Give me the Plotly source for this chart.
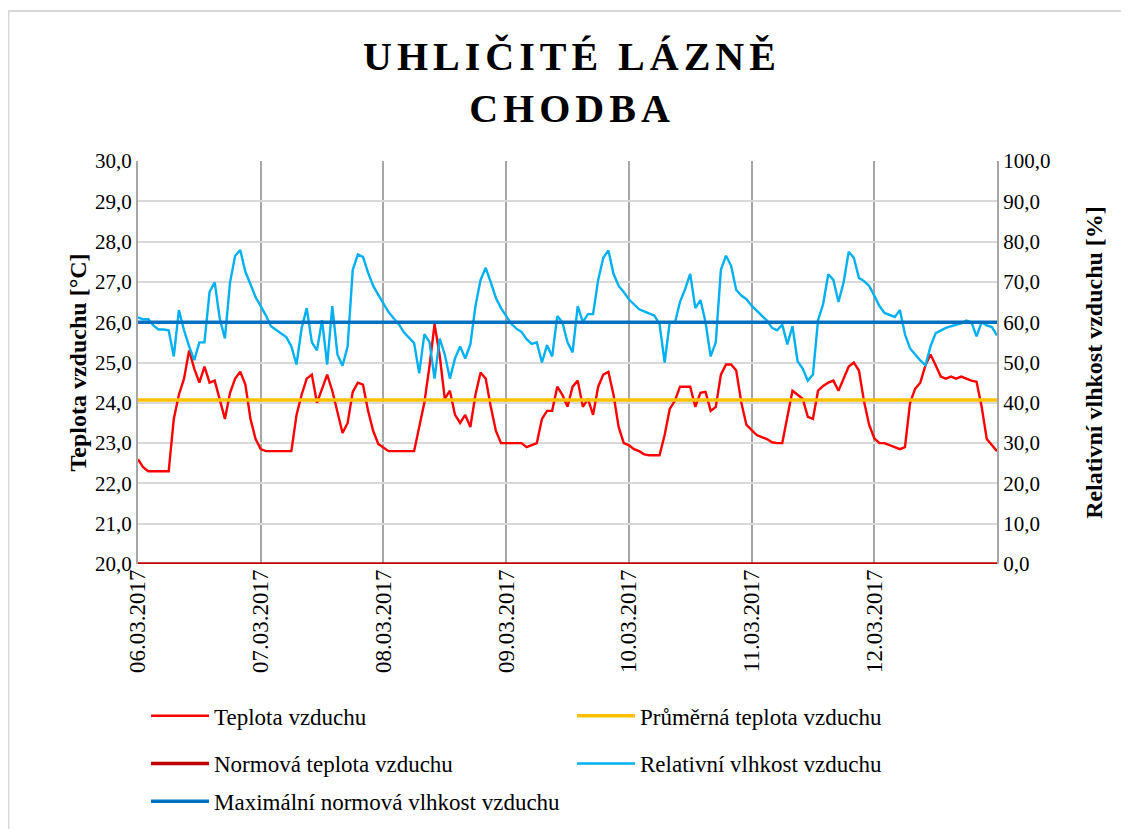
import pandas as pd
import plotly.graph_objects as go

# ---------------- data (hourly readings) ----------------
DAYS = ["06.03.2017", "07.03.2017", "08.03.2017", "09.03.2017",
        "10.03.2017", "11.03.2017", "12.03.2017"]

TEMP_06 = [22.6, 22.4, 22.3, 22.3, 22.3, 22.3, 22.3, 23.6, 24.2, 24.6, 25.3, 24.85,
           24.5, 24.9, 24.5, 24.55, 24.1, 23.6, 24.25, 24.6, 24.77, 24.45, 23.6, 23.1]
TEMP_07 = [22.85, 22.8, 22.8, 22.8, 22.8, 22.8, 22.8, 23.7, 24.2, 24.6, 24.7, 24.0,
           24.35, 24.7, 24.3, 23.8, 23.25, 23.5, 24.27, 24.5, 24.45, 23.8, 23.3, 22.98]
TEMP_08 = [22.88, 22.8, 22.8, 22.8, 22.8, 22.8, 22.8, 23.4, 24.0, 24.9, 25.95, 25.18,
           24.1, 24.3, 23.7, 23.5, 23.7, 23.4, 24.2, 24.75, 24.6, 23.9, 23.3, 23.0]
TEMP_09 = [23.0, 23.0, 23.0, 23.0, 22.9, 22.95, 23.0, 23.6, 23.8, 23.8, 24.4, 24.2,
           23.9, 24.4, 24.55, 23.9, 24.1, 23.7, 24.4, 24.7, 24.77, 24.2, 23.4, 23.0]
TEMP_10 = [22.95, 22.85, 22.8, 22.72, 22.7, 22.7, 22.7, 23.2, 23.85, 24.05, 24.4, 24.4,
           24.4, 23.9, 24.25, 24.27, 23.8, 23.9, 24.7, 24.95, 24.95, 24.8, 24.0, 23.45]
TEMP_11 = [23.33, 23.2, 23.15, 23.1, 23.02, 23.0, 23.0, 23.7, 24.3, 24.2, 24.1, 23.65,
           23.6, 24.3, 24.42, 24.5, 24.55, 24.3, 24.6, 24.9, 25.0, 24.8, 24.03, 23.45]
TEMP_12 = [23.12, 23.0, 23.0, 22.95, 22.9, 22.85, 22.9, 24.0, 24.35, 24.5, 24.93, 25.2,
           24.93, 24.65, 24.6, 24.65, 24.6, 24.65, 24.6, 24.55, 24.52, 23.9, 23.1, 22.95]
TEMP_END = [22.8]

RH_06 = [61.2, 60.7, 60.8, 59.2, 58.2, 58.2, 58.0, 51.5, 63.0, 58.0, 54.0, 50.6,
         55.0, 55.0, 67.5, 69.9, 60.8, 56.0, 69.9, 76.5, 77.9, 72.5, 69.4, 66.2]
RH_07 = [64.0, 61.7, 59.0, 58.0, 57.2, 56.3, 54.0, 49.5, 58.5, 63.5, 55.0, 53.0,
         60.5, 49.5, 64.0, 52.0, 49.2, 54.0, 73.0, 76.8, 76.2, 72.3, 69.0, 66.8]
RH_08 = [64.5, 62.5, 61.0, 59.5, 57.5, 56.2, 54.8, 47.3, 57.0, 55.1, 46.0, 55.9,
         52.0, 46.0, 51.0, 54.0, 51.0, 54.5, 64.0, 70.5, 73.5, 69.9, 66.0, 63.5]
RH_09 = [61.6, 59.6, 58.4, 57.6, 55.8, 54.6, 55.0, 50.0, 54.3, 51.5, 61.5, 60.0,
         55.0, 52.5, 64.0, 60.0, 62.0, 62.0, 70.5, 76.0, 77.8, 72.0, 69.0, 67.5]
RH_10 = [65.7, 64.5, 63.2, 62.7, 62.1, 61.6, 59.5, 50.0, 60.0, 59.8, 65.0, 68.2,
         72.0, 63.5, 65.5, 60.0, 51.5, 55.0, 73.0, 76.5, 74.0, 68.0, 66.6, 65.7]
RH_11 = [64.1, 62.9, 61.6, 60.4, 58.6, 58.0, 59.4, 54.5, 59.0, 50.3, 48.5, 45.5,
         47.0, 60.5, 64.5, 71.9, 70.5, 65.0, 69.9, 77.5, 76.0, 71.0, 70.2, 69.0]
RH_12 = [66.6, 64.0, 62.3, 61.7, 61.3, 63.0, 57.0, 53.5, 52.0, 50.5, 49.3, 54.0,
         57.3, 58.0, 58.6, 59.0, 59.4, 59.7, 60.4, 60.0, 56.5, 60.0, 59.2, 58.8]
RH_END = [56.7]

AVG_TEMP = 24.07      # Průměrná teplota vzduchu
NORM_TEMP = 20.0      # Normová teplota vzduchu
MAX_RH = 60.0         # Maximální normová vlhkost vzduchu

TITLE_LINES = ["UHLIČITÉ LÁZNĚ", "CHODBA"]
NAMES = ["Teplota vzduchu", "Průměrná teplota vzduchu", "Normová teplota vzduchu",
         "Relativní vlhkost vzduchu", "Maximální normová vlhkost vzduchu"]

# ---------------- build ----------------
temp = TEMP_06 + TEMP_07 + TEMP_08 + TEMP_09 + TEMP_10 + TEMP_11 + TEMP_12 + TEMP_END
rh = RH_06 + RH_07 + RH_08 + RH_09 + RH_10 + RH_11 + RH_12 + RH_END
times = pd.date_range("2017-03-06 00:00", periods=len(temp), freq="h")
span = [times[0], times[-1]]
day_ticks = pd.date_range("2017-03-06", periods=len(DAYS), freq="D")

SERIF = "Liberation Serif, Times New Roman, serif"
fig = go.Figure()

fig.add_trace(go.Scatter(x=times, y=temp, mode="lines", name=NAMES[0],
                         line=dict(color="#FF0000", width=2.4), legend="legend"))
fig.add_trace(go.Scatter(x=span, y=[AVG_TEMP, AVG_TEMP], mode="lines", name=NAMES[1],
                         line=dict(color="#FFC000", width=3.5), legend="legend2"))
fig.add_trace(go.Scatter(x=span, y=[NORM_TEMP, NORM_TEMP], mode="lines", name=NAMES[2],
                         line=dict(color="#C00000", width=3.5), legend="legend3",
                         cliponaxis=False))
fig.add_trace(go.Scatter(x=times, y=rh, mode="lines", name=NAMES[3], yaxis="y2",
                         line=dict(color="#00B0F0", width=2.4), legend="legend4"))
fig.add_trace(go.Scatter(x=span, y=[MAX_RH, MAX_RH], mode="lines", name=NAMES[4], yaxis="y2",
                         line=dict(color="#0070C0", width=3.5), legend="legend5"))

# the page body adds an 8 px offset, so the figure is sized to the visible area
OFF = 8
W, H = 1129 - OFF, 834 - OFF
PL, PR, PT, PB = 138 - OFF, 997 - OFF, 161 - OFF, 567 - OFF   # plot box in figure px
L, R, T, B = PL, W - PR, PT, H - PB
pw, ph = PR - PL, PB - PT


def px_x(x):      # screen x -> paper x
    return (x - OFF - PL) / pw


def px_y(y):      # screen y -> paper y
    return (PB - (y - OFF)) / ph


title_text = "<br>".join(
    '<span style="letter-spacing:5px">%s</span>' % t for t in TITLE_LINES)

leg_common = dict(orientation="h", bgcolor="rgba(0,0,0,0)",
                  font=dict(family=SERIF, size=23, color="#000000"),
                  xanchor="left", yanchor="middle", itemwidth=58)

fig.update_layout(
    width=W, height=H,
    margin=dict(l=L, r=R, t=T, b=B),
    paper_bgcolor="white", plot_bgcolor="white",
    separators=", ",
    showlegend=True,
    title=dict(text=title_text, x=(572 - OFF) / W, xanchor="center", y=1 - (70 - OFF) / H,
               yanchor="middle",
               font=dict(family=SERIF, size=40, color="#000000", weight="bold")),
    xaxis=dict(type="date", range=span, tickvals=day_ticks, ticktext=DAYS,
               tickangle=-90, ticks="", showgrid=True, gridcolor="#A6A6A6", gridwidth=2,
               showline=False, zeroline=False,
               tickfont=dict(family=SERIF, size=23, color="#000000")),
    yaxis=dict(range=[20, 30], dtick=1, tickformat=".1f", showgrid=True,
               gridcolor="#D9D9D9", gridwidth=1.5, zeroline=False,
               showline=True, linecolor="#A6A6A6", linewidth=2, ticks="",
               tickfont=dict(family=SERIF, size=21, color="#000000"),
               title=dict(text="Teplota vzduchu [°C]", standoff=2,
                          font=dict(family=SERIF, size=24, color="#000000", weight="bold"))),
    yaxis2=dict(range=[0, 100], dtick=10, tickformat=".1f", overlaying="y", side="right",
                showgrid=False, zeroline=False, showline=True, linecolor="#A6A6A6",
                linewidth=2, ticks="",
                tickfont=dict(family=SERIF, size=21, color="#000000"),
                title=dict(text="Relativní vlhkost vzduchu [%]", standoff=36,
                           font=dict(family=SERIF, size=24, color="#000000", weight="bold"))),
    legend=dict(x=px_x(146), y=px_y(720), **leg_common),
    legend2=dict(x=px_x(572), y=px_y(720), **leg_common),
    legend3=dict(x=px_x(146), y=px_y(768), **leg_common),
    legend4=dict(x=px_x(572), y=px_y(768), **leg_common),
    legend5=dict(x=px_x(146), y=px_y(806), **leg_common),
    shapes=[dict(type="line", xref="paper", yref="paper", layer="below",
                 x0=px_x(8), x1=px_x(1129), y0=px_y(10), y1=px_y(10),
                 line=dict(color="#D9D9D9", width=2)),
            dict(type="line", xref="paper", yref="paper", layer="below",
                 x0=px_x(8.5), x1=px_x(8.5), y0=px_y(10), y1=px_y(834),
                 line=dict(color="#D9D9D9", width=2))],
)

fig.write_html("out.html")
